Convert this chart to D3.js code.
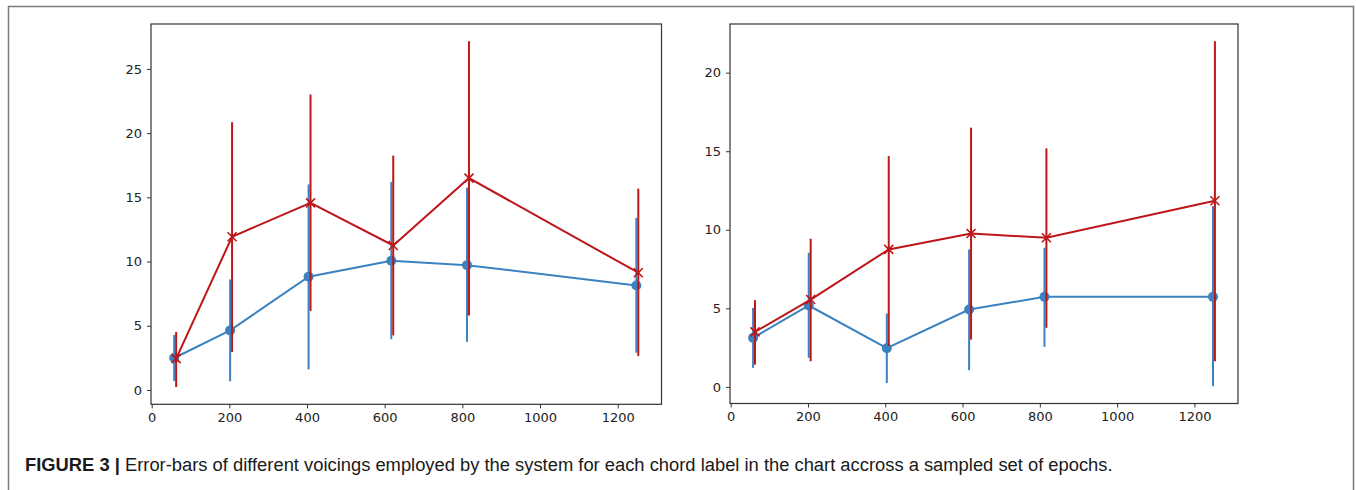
<!DOCTYPE html>
<html>
<head>
<meta charset="utf-8">
<script src="https://cdn.jsdelivr.net/npm/d3@7"></script>
<style>
  body { margin: 0; background: #fff; }
  svg { display: block; }
</style>
</head>
<body>
<div id="chart"></div>
<script>
// epochs sampled (blue series, red series slightly shifted)
var epochsBlue = [58, 202, 404, 617, 812, 1248];
var epochsRed  = [63, 207, 409, 622, 817, 1253];

// left panel
var leftBlueMean  = [2.49, 4.64, 8.82, 10.06, 9.72, 8.14];
var leftBlueLow   = [0.7, 0.68, 1.6, 3.95, 3.75, 2.9];
var leftBlueHigh  = [4.28, 8.6, 16.0, 16.2, 15.75, 13.4];
var leftRedMean   = [2.44, 11.93, 14.57, 11.25, 16.5, 9.13];
var leftRedLow    = [0.23, 2.95, 6.15, 4.25, 5.8, 2.64];
var leftRedHigh   = [4.51, 20.85, 23.0, 18.25, 27.15, 15.68];

// right panel
var rightBlueMean = [3.12, 5.18, 2.46, 4.92, 5.73, 5.73];
var rightBlueLow  = [1.21, 1.85, 0.25, 1.06, 2.55, 0.04];
var rightBlueHigh = [5.03, 8.54, 4.67, 8.75, 8.85, 11.5];
var rightRedMean  = [3.5, 5.56, 8.75, 9.76, 9.49, 11.85];
var rightRedLow   = [1.42, 1.63, 2.6, 3.01, 3.76, 1.63];
var rightRedHigh  = [5.52, 9.43, 14.69, 16.5, 15.18, 22.0];

var xTicks = [0, 200, 400, 600, 800, 1000, 1200];
var leftYTicks = [0, 5, 10, 15, 20, 25];
var rightYTicks = [0, 5, 10, 15, 20];

var captionBold = "FIGURE 3 | ";
var captionText = "Error-bars of different voicings employed by the system for each chord label in the chart accross a sampled set of epochs.";

var blue = "#3b82c0", red = "#bd1619";

var W = 1356, H = 490;
var svg = d3.select("#chart").append("svg")
    .attr("width", W)
    .attr("height", H);

// outer figure frame (bottom runs off the page)
svg.append("path")
    .attr("d", "M8.5," + (H + 2) + "V6.5H1353.5V" + (H + 2))
    .attr("fill", "none")
    .attr("stroke", "#7a7a7a")
    .attr("stroke-width", 1.5);

function pack(xs, mean, low, high) {
  return xs.map(function(x, i) { return {x: x, m: mean[i], lo: low[i], hi: high[i]}; });
}

function padded(lo, hi) {
  var p = (hi - lo) * 0.05;
  return [lo - p, hi + p];
}

function drawPanel(box, blueData, redData, yTicks) {
  var all = blueData.concat(redData);
  var x = d3.scaleLinear()
      .domain(padded(d3.min(all, function(d) { return d.x; }), d3.max(all, function(d) { return d.x; })))
      .range([box.left, box.right]);
  var y = d3.scaleLinear()
      .domain(padded(d3.min(all, function(d) { return d.lo; }), d3.max(all, function(d) { return d.hi; })))
      .range([box.bottom, box.top]);

  var g = svg.append("g");

  // series: error bars, line, markers
  [[blueData, blue, "o"], [redData, red, "x"]].forEach(function(s) {
    var data = s[0], col = s[1];
    g.selectAll(null)
        .data(data)
      .enter().append("line")
        .attr("x1", function(d) { return x(d.x); })
        .attr("x2", function(d) { return x(d.x); })
        .attr("y1", function(d) { return y(d.lo); })
        .attr("y2", function(d) { return y(d.hi); })
        .attr("stroke", col)
        .attr("stroke-width", 2);

    g.append("path")
        .datum(data)
        .attr("fill", "none")
        .attr("stroke", col)
        .attr("stroke-width", 2)
        .attr("d", d3.line()
            .x(function(d) { return x(d.x); })
            .y(function(d) { return y(d.m); }));

    if (s[2] == "o") {
      g.selectAll(null)
          .data(data)
        .enter().append("circle")
          .attr("cx", function(d) { return x(d.x); })
          .attr("cy", function(d) { return y(d.m); })
          .attr("r", 5)
          .attr("fill", col);
    } else {
      g.selectAll(null)
          .data(data)
        .enter().append("path")
          .attr("d", function(d) {
            var cx = x(d.x), cy = y(d.m), r = 4.5;
            return "M" + (cx - r) + "," + (cy - r) + "L" + (cx + r) + "," + (cy + r) +
                   "M" + (cx - r) + "," + (cy + r) + "L" + (cx + r) + "," + (cy - r);
          })
          .attr("stroke", col)
          .attr("stroke-width", 1.6)
          .attr("fill", "none");
    }
  });

  // axes frame
  g.append("rect")
      .attr("x", box.left)
      .attr("y", box.top)
      .attr("width", box.right - box.left)
      .attr("height", box.bottom - box.top)
      .attr("fill", "none")
      .attr("stroke", "#333")
      .attr("stroke-width", 1.2);

  var xAxis = g.append("g")
      .attr("transform", "translate(0," + box.bottom + ")")
      .call(d3.axisBottom(x).tickValues(xTicks).tickSize(4).tickPadding(4).tickFormat(d3.format("d")));
  var yAxis = g.append("g")
      .attr("transform", "translate(" + box.left + ",0)")
      .call(d3.axisLeft(y).tickValues(yTicks).tickSize(4).tickPadding(5).tickFormat(d3.format("d")));

  [xAxis, yAxis].forEach(function(a) {
    a.select(".domain").remove();
    a.selectAll("line").attr("stroke", "#333").attr("stroke-width", 1);
    a.selectAll("text")
        .attr("fill", "#222")
        .style("font-family", "'DejaVu Sans', sans-serif")
        .style("font-size", "13px");
  });
}

drawPanel({left: 151, right: 661.5, top: 24, bottom: 404.3},
          pack(epochsBlue, leftBlueMean, leftBlueLow, leftBlueHigh),
          pack(epochsRed, leftRedMean, leftRedLow, leftRedHigh),
          leftYTicks);

drawPanel({left: 730, right: 1238, top: 24, bottom: 403.5},
          pack(epochsBlue, rightBlueMean, rightBlueLow, rightBlueHigh),
          pack(epochsRed, rightRedMean, rightRedLow, rightRedHigh),
          rightYTicks);

// caption
var cap = svg.append("text")
    .attr("x", 25)
    .attr("y", 471)
    .style("font-family", "'Liberation Sans', Arial, sans-serif")
    .style("font-size", "15.5px")
    .attr("fill", "#1a1a1a");
cap.append("tspan").attr("font-weight", "bold").text(captionBold);
cap.append("tspan").text(captionText);

// fit caption to its width in the reference
var len = cap.node().getComputedTextLength();
cap.style("font-size", (15.5 * 1088 / len) + "px");
</script>
</body>
</html>
